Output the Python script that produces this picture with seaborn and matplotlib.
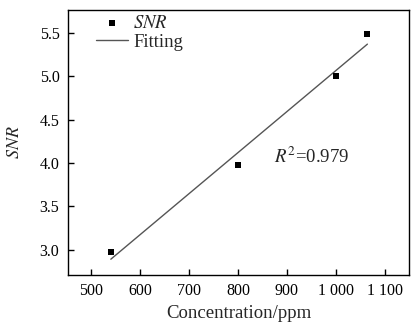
import numpy as np
import pandas as pd
import seaborn as sns
import matplotlib.pyplot as plt

# data
concentration = [540, 800, 1000, 1065]
snr = [2.97, 3.98, 5.00, 5.49]
x_ticks = [500, 600, 700, 800, 900, 1000, 1100]
x_tick_labels = ['500', '600', '700', '800', '900', '1 000', '1 100']
y_ticks = [3.0, 3.5, 4.0, 4.5, 5.0, 5.5]

df = pd.DataFrame({'Concentration': concentration, 'SNR': snr})

# linear fit over the data range
k, b = np.polyfit(df['Concentration'], df['SNR'], 1)
fit = pd.DataFrame({'Concentration': [min(concentration), max(concentration)]})
fit['SNR'] = k * fit['Concentration'] + b

sns.set_style('ticks')
plt.rcParams['font.family'] = ['Liberation Serif', 'DejaVu Serif']
plt.rcParams['mathtext.fontset'] = 'stix'

fig = plt.figure(figsize=(4.11, 3.24), dpi=100)
ax = fig.add_axes([0.165, 0.151, 0.830, 0.818])

sns.scatterplot(x='Concentration', y='SNR', data=df, ax=ax, marker='s', s=22,
                color='black', edgecolor='black', linewidth=0, label='$SNR$', zorder=3)
sns.lineplot(x='Concentration', y='SNR', data=fit, ax=ax, color='#555555',
             linewidth=1.0, label='Fitting')

ax.set_xlim(452, 1150)
ax.set_ylim(2.71, 5.76)
ax.set_xticks(x_ticks)
ax.set_xticklabels(x_tick_labels)
ax.set_yticks(y_ticks)
ax.set_yticklabels(['%.1f' % v for v in y_ticks])
ax.tick_params(direction='in', length=4, width=1, labelsize=11.5, colors='black', pad=6)
for s in ax.spines.values():
    s.set_linewidth(1.0)
    s.set_color('black')

ax.set_xlabel('Concentration/ppm', fontsize=13.5, labelpad=4)
ax.set_ylabel('$SNR$', fontsize=13, labelpad=12)

ax.text(873, 4.07, '$R^2$=0.979', fontsize=13.5, va='center', ha='left')

leg = ax.legend(loc='upper left', frameon=False, fontsize=13.5, handlelength=1.7,
                handletextpad=0.3, borderaxespad=0.0, labelspacing=0.1,
                bbox_to_anchor=(0.06, 1.01))

plt.savefig('out.png', dpi=100)
